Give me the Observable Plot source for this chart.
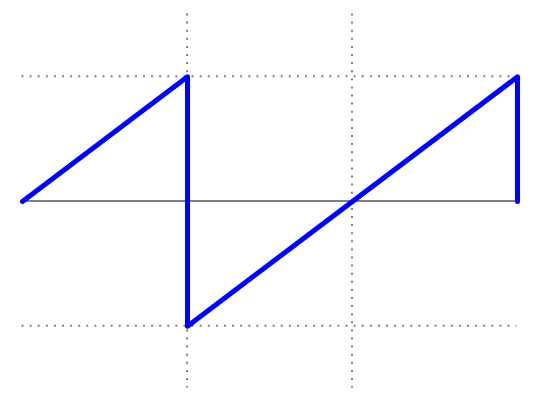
<!DOCTYPE html>
<html>
<head>
<meta charset="utf-8">
<script src="https://cdn.jsdelivr.net/npm/d3@7"></script>
<script src="https://cdn.jsdelivr.net/npm/@observablehq/plot@0.6"></script>
<style>
  html, body { margin: 0; padding: 0; background: #fff; }
</style>
</head>
<body>
<div id="chart"></div>
<script>
const xs = [0, 1, 1, 3, 3];
const ys = [0, 1, -1, 1, 0];
const gridX = [1, 2];
const gridY = [-1, 1];

const data = xs.map((x, i) => ({x, y: ys[i]}));

const chart = Plot.plot({
  width: 540,
  height: 405,
  marginLeft: 22,
  marginRight: 23,
  marginTop: 14,
  marginBottom: 17,
  x: {domain: [0, 3], axis: null},
  y: {domain: [-1.5, 1.5], axis: null},
  style: {background: "#fff"},
  marks: [
    Plot.ruleX(gridX, {stroke: "#808080", strokeWidth: 2, strokeDasharray: "2,6.1", strokeOpacity: 1, dx: -0.5, dy: -0.5}),
    Plot.ruleY(gridY, {x1: 0, x2: 3, stroke: "#808080", strokeWidth: 2, strokeDasharray: "2,6.1", strokeOpacity: 1, dx: -0.5, dy: -0.5}),
    Plot.ruleY([0], {x1: 0, x2: 3, stroke: "#808080", strokeWidth: 2, strokeOpacity: 1, dx: -0.5, dy: -0.5}),
    Plot.line(data, {x: "x", y: "y", stroke: "#0000ff", strokeWidth: 5, strokeLinecap: "round", strokeLinejoin: "round"})
  ]
});
document.getElementById("chart").appendChild(chart);
</script>
</body>
</html>
